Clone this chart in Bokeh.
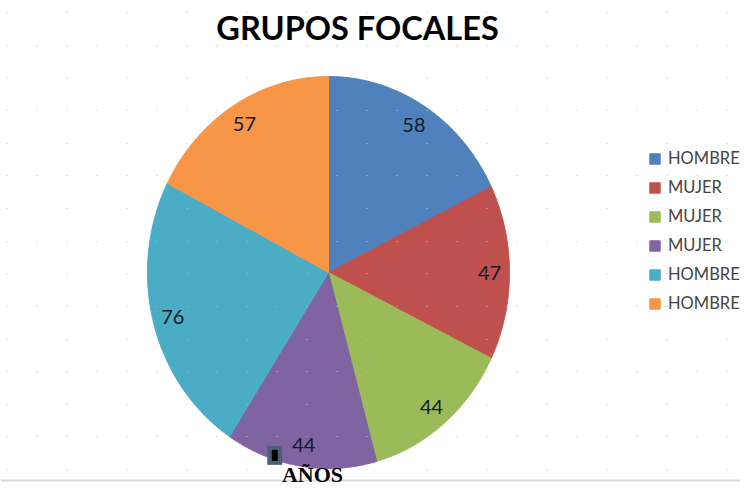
import numpy as np
from bokeh.plotting import figure
from bokeh.models import (Range1d, Label, Legend, LegendItem, ColumnDataSource,
                          Grid, FixedTicker, Span)
from bokeh.core.properties import value
from bokeh.embed import file_html
from bokeh.resources import INLINE

# ---- data ----
title_text = "GRUPOS FOCALES"
xlabel_text = "AÑOS"
labels = ["HOMBRE", "MUJER", "MUJER", "MUJER", "HOMBRE", "HOMBRE"]
values = [58, 47, 44, 44, 76, 57]
colors = ["#4F81BD", "#C0504D", "#9BBB59", "#8064A2", "#4BACC6", "#F79646"]

# ---- layout (pixel coordinates, y downwards) ----
W, H = 740, 487
p = figure(width=W, height=H, x_range=Range1d(0, W), y_range=Range1d(H, 0),
           output_backend="svg", toolbar_location=None, min_border=0,
           x_axis_location=None, y_axis_location=None)
p.outline_line_color = None
p.background_fill_color = "white"
p.border_fill_color = "white"
p.xgrid.visible = False
p.ygrid.visible = False

cx, cy, rx, ry = 328, 272, 181, 196
total = float(sum(values))
cum = np.concatenate([[0.0], np.cumsum(values)]) / total * 2 * np.pi

renderers = []
for i in range(len(values)):
    th = np.linspace(cum[i], cum[i + 1], 120)
    xs = np.concatenate([[cx], cx + rx * np.sin(th)])
    ys = np.concatenate([[cy], cy - ry * np.cos(th)])
    r = p.patch(xs, ys, fill_color=colors[i], line_color=colors[i], line_width=1)
    renderers.append(r)

mid = (cum[:-1] + cum[1:]) / 2
k = 0.89
lab_src = ColumnDataSource(dict(
    x=cx + k * rx * np.sin(mid),
    y=cy - k * ry * np.cos(mid),
    t=[str(v) for v in values],
))
p.text(x="x", y="y", text="t", source=lab_src, text_align="center",
       text_baseline="middle", text_font=value("Lato"),
       text_font_size="20px", text_color="#141a24")

# small selection marker next to the purple slice label
px, py = lab_src.data["x"][3], lab_src.data["y"][3]
p.rect(x=[px - 29], y=[py + 10.5], width=15, height=19,
       fill_color="#4d5f78", line_color=None)
p.rect(x=[px - 29], y=[py + 10.5], width=6, height=11,
       fill_color="black", line_color=None)

# dotted worksheet grid
p.add_layout(Span(location=480, dimension="width", line_color="#d9d9d9",
                  line_width=2))

rows_full = 12 + 32.65 * np.arange(1, 15, 2)
rows_half = 12 + 32.65 * np.arange(0, 15, 2)
g1 = Grid(dimension=1, ticker=FixedTicker(ticks=list(rows_full)),
          grid_line_color="#bdbdbd", grid_line_dash="1 29",
          grid_line_dash_offset=24, level="overlay")
g2 = Grid(dimension=1, ticker=FixedTicker(ticks=list(rows_half)),
          grid_line_color="#bdbdbd", grid_line_dash="1 59",
          grid_line_dash_offset=54, level="overlay")
p.add_layout(g1)
p.add_layout(g2)

p.add_layout(Label(x=357, y=27, text=title_text, text_align="center",
                   text_baseline="middle", text_font="Lato",
                   text_font_style="bold", text_font_size="32.5px",
                   text_color="black"))
p.add_layout(Label(x=312, y=474, text=xlabel_text, text_align="center",
                   text_baseline="middle", text_font="Liberation Serif",
                   text_font_style="bold", text_font_size="22px",
                   text_color="black"))

items = [LegendItem(label=labels[i], renderers=[renderers[i]], index=0)
         for i in range(len(values))]
leg = Legend(items=items, location=(648, 174), glyph_width=13, glyph_height=13,
             label_standoff=7, label_text_font="Lato", label_text_font_size="16.5px",
             label_height=20, spacing=9, padding=0, margin=0,
             border_line_alpha=0, background_fill_alpha=0)
p.add_layout(leg)

open("out.html", "w").write(file_html(p, INLINE))
